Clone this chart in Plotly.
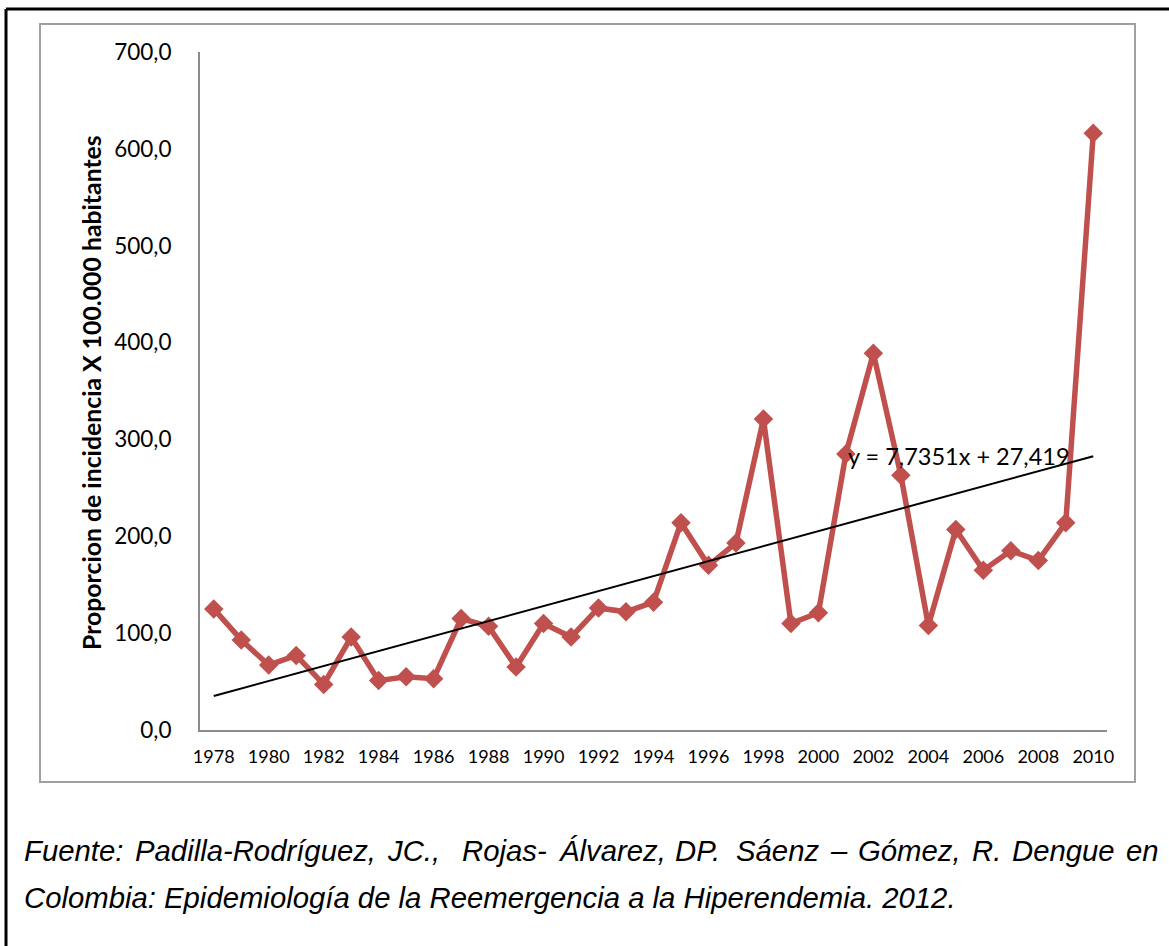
import plotly.graph_objects as go

# ---------------- data ----------------
years = list(range(1978, 2011))
incidence = [125, 93, 67, 77, 47, 96, 51, 55, 53, 115,
             107, 65, 110, 96, 126, 122, 132, 214, 170, 193,
             321, 110, 121, 285, 389, 263, 108, 207, 165, 185,
             175, 214, 616]
TREND_SLOPE = 7.7351
TREND_INTERCEPT = 27.419
trend_label = "y = 7,7351x + 27,419"
y_ticks = [0, 100, 200, 300, 400, 500, 600, 700]
y_tick_labels = ["0,0", "100,0", "200,0", "300,0", "400,0", "500,0", "600,0", "700,0"]
x_ticks = list(range(1978, 2011, 2))
x_tick_labels = [str(y) for y in x_ticks]
y_title = "Proporcion de incidencia X 100.000 habitantes"
caption_line1 = ["Fuente:", "Padilla-Rodríguez,", "JC.,", "", "Rojas-", "Álvarez,", "DP.",
                 "Sáenz", "–", "Gómez,", "R.", "Dengue", "en"]
caption_line2 = "Colombia: Epidemiología de la Reemergencia a la Hiperendemia. 2012."

trend = [TREND_SLOPE * (i + 1) + TREND_INTERCEPT for i in range(len(years))]

# ---------------- geometry helpers ----------------
W, H = 1169, 946
L, R, T, B = 200, 1107, 52, 730


def PX(px):
    return (px - L) / (R - L)


def PY(py):
    return (B - py) / (B - T)


fig = go.Figure()
fig.add_trace(go.Scatter(
    x=years, y=incidence, mode="lines+markers",
    line=dict(color="#C0504D", width=5.5),
    marker=dict(symbol="diamond", size=15, color="#C0504D"),
    cliponaxis=False, showlegend=False))
fig.add_trace(go.Scatter(
    x=years, y=trend, mode="lines",
    line=dict(color="black", width=2),
    cliponaxis=False, showlegend=False))

shapes = [
    # outer black frame (top and left visible)
    dict(type="line", xref="paper", yref="paper", x0=PX(6), y0=PY(9), x1=PX(1172), y1=PY(9),
         line=dict(color="black", width=3), layer="below"),
    dict(type="line", xref="paper", yref="paper", x0=PX(6), y0=PY(9), x1=PX(6), y1=PY(950),
         line=dict(color="black", width=3), layer="below"),
    # gray chart frame
    dict(type="rect", xref="paper", yref="paper", x0=PX(40), y0=PY(24), x1=PX(1135), y1=PY(782),
         line=dict(color="#a0a0a0", width=2), layer="below"),
]

annotations = [
    dict(text="<b>%s</b>" % y_title, xref="paper", yref="paper", x=PX(92), y=PY(393),
         textangle=-90, showarrow=False, xanchor="center", yanchor="middle",
         font=dict(family="Lato", size=24.8, color="black")),
    dict(text=trend_label, xref="paper", yref="paper", x=PX(846), y=PY(456),
         showarrow=False, xanchor="left", yanchor="middle",
         font=dict(family="Lato", size=23.5, color="black")),
]

# Arial / Liberation Sans advance widths (per 1000 em) for justified caption
AW = {' ': 278, 'F': 611, 'u': 556, 'e': 556, 'n': 556, 't': 278, ':': 278, 'P': 667,
      'a': 556, 'd': 556, 'i': 222, 'l': 222, '-': 333, 'R': 722, 'o': 556, 'r': 333,
      'í': 278, 'g': 556, 'z': 500, ',': 278, 'J': 500, 'C': 722, '.': 278, 'j': 222,
      's': 500, 'Á': 667, 'v': 500, 'D': 722, 'S': 667, 'á': 556, '–': 556, 'G': 778,
      'ó': 556, 'm': 833}
CAP_SIZE = 29.3
cap_font = dict(family="Liberation Sans", size=CAP_SIZE, color="black")


def tw(s):
    return sum(AW.get(c, 556) for c in s) / 1000.0 * CAP_SIZE


x_start, x_end = 22, 1157
words_w = sum(tw(w) for w in caption_line1)
gap = (x_end - x_start - words_w) / (len(caption_line1) - 1)
cx = x_start
for w in caption_line1:
    if w:
        annotations.append(dict(text="<i>%s</i>" % w, xref="paper", yref="paper",
                                x=PX(cx), y=PY(850), showarrow=False,
                                xanchor="left", yanchor="middle", font=cap_font))
    cx += tw(w) + gap

annotations.append(dict(text="<i>%s</i>" % caption_line2, xref="paper", yref="paper",
                        x=PX(22), y=PY(897), showarrow=False,
                        xanchor="left", yanchor="middle", font=cap_font))

fig.update_layout(
    width=W, height=H, autosize=False,
    margin=dict(l=L, r=W - R, t=T, b=H - B, pad=0),
    paper_bgcolor="white", plot_bgcolor="white",
    shapes=shapes, annotations=annotations,
    xaxis=dict(range=[1977.5, 2010.5], tickvals=x_ticks, ticktext=x_tick_labels,
               showgrid=False, zeroline=False, showline=True, linecolor="#8c8c8c",
               linewidth=2, ticks="outside", ticklen=9, tickcolor="rgba(0,0,0,0)",
               tickfont=dict(family="Lato", size=18, color="black")),
    yaxis=dict(range=[0, 700], tickvals=y_ticks, ticktext=y_tick_labels,
               showgrid=False, zeroline=False, showline=True, linecolor="#8c8c8c",
               linewidth=2, ticks="outside", ticklen=22, tickcolor="rgba(0,0,0,0)",
               tickfont=dict(family="Lato", size=22.5, color="black")),
)

fig.write_html("out.html", config={"displayModeBar": False},
               post_script="document.body.style.margin='0';document.body.style.overflow='hidden';")
